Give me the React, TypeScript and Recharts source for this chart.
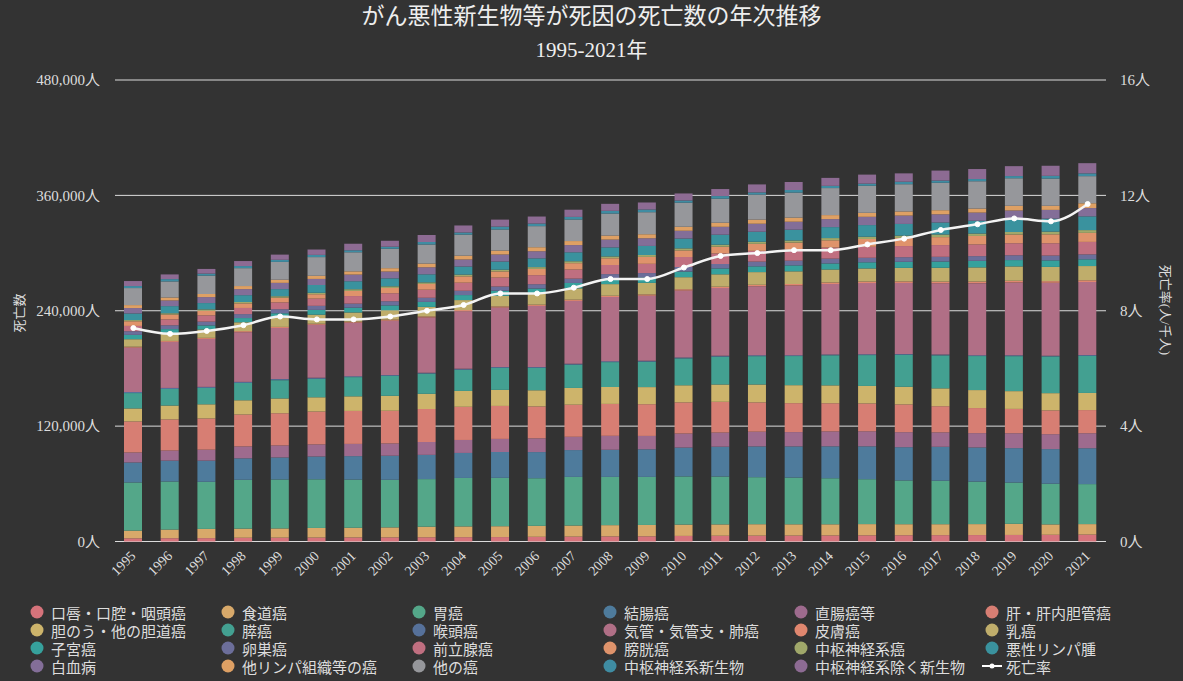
import React from "react";
import { ComposedChart, Bar, Line, XAxis, YAxis, CartesianGrid } from "recharts";

// がん（悪性新生物）の部位別死亡数（積み上げ棒）と死亡率（折れ線, 右軸）1995-2021

const YEARS = [
  "1995", "1996", "1997", "1998", "1999", "2000", "2001", "2002", "2003", "2004",
  "2005", "2006", "2007", "2008", "2009", "2010", "2011", "2012", "2013", "2014",
  "2015", "2016", "2017", "2018", "2019", "2020", "2021",
];

const LIP = [3300, 3400, 3500, 3900, 4000, 4100, 4200, 4300, 4400, 4500, 4600, 4900, 5100, 5300, 5400, 5800, 6000, 6100, 6200, 6300, 6400, 6500, 6600, 6700, 6800, 7000, 7200];
const ESOPHAGUS = [8000, 9000, 9600, 9500, 9600, 10000, 10100, 10400, 11000, 11200, 11300, 11400, 11500, 11700, 11800, 11800, 11800, 11900, 11700, 11600, 11700, 11500, 11400, 11400, 11600, 10800, 10900];
const STOMACH = [50100, 50000, 49000, 50800, 50900, 50600, 50100, 49500, 49500, 50400, 50300, 49500, 50600, 50200, 50000, 50100, 49800, 48900, 48600, 47900, 46700, 45500, 45200, 44200, 42900, 42300, 41600];
const COLON = [20800, 21700, 22000, 22300, 22900, 23700, 24400, 25000, 25200, 26000, 26900, 27200, 27900, 28200, 28700, 30000, 31000, 32000, 32400, 33200, 34200, 34600, 35300, 35500, 35800, 36000, 37300];
const RECTUM = [10400, 10500, 11400, 12400, 12500, 12600, 12700, 12800, 13400, 13500, 13600, 14300, 13800, 14500, 13900, 14600, 14700, 15300, 14900, 15500, 15600, 15600, 15000, 14900, 15500, 15500, 15600];
const LIVER = [32300, 32400, 32500, 33200, 33500, 34200, 34300, 34000, 34300, 34500, 34300, 33200, 33400, 33200, 33000, 32400, 32000, 30500, 30100, 29300, 29000, 28900, 27200, 26100, 25300, 24800, 24100];
const GALLBLADDER = [13500, 14400, 14700, 14800, 15400, 14800, 15200, 15500, 15800, 16500, 16700, 16800, 17400, 17600, 17800, 17800, 18000, 18600, 18700, 18600, 18200, 18300, 18600, 18700, 18500, 17900, 17800];
const PANCREAS = [16000, 17200, 17000, 18000, 19000, 19200, 20000, 20800, 21000, 22000, 22900, 23300, 24200, 25900, 26400, 28000, 28900, 29500, 30300, 31300, 32100, 33300, 34300, 35400, 36400, 38200, 38500];
const LARYNX = [1100, 1100, 1100, 1100, 1100, 1100, 1000, 1000, 1000, 1000, 1000, 1000, 1000, 1000, 1000, 1000, 1000, 1000, 900, 900, 900, 900, 900, 900, 900, 800, 900];
const LUNG = [46100, 47900, 49900, 51700, 53200, 55100, 55600, 56300, 57400, 59900, 61700, 63400, 65300, 66700, 67600, 69500, 70400, 71700, 72500, 73200, 74000, 73800, 74100, 74900, 75700, 75800, 76000];
const SKIN = [1000, 1000, 1100, 1100, 1100, 1100, 1100, 1200, 1100, 1200, 1200, 1300, 1300, 1300, 1400, 1400, 1400, 1500, 1500, 1600, 1600, 1600, 1700, 1700, 1800, 1700, 1800];
const BREAST = [7800, 8000, 8700, 9200, 9400, 9400, 9500, 9700, 9900, 10400, 11000, 11400, 11800, 12100, 12000, 12500, 12900, 13200, 13200, 13500, 13600, 14100, 14400, 14700, 14900, 14800, 14800];
const UTERUS = [4500, 4300, 4300, 4400, 4800, 5000, 5000, 5100, 5200, 5200, 5300, 5400, 5600, 5700, 5600, 5900, 6100, 6000, 6200, 6300, 6400, 6300, 6500, 6800, 6600, 6800, 7000];
const OVARY = [3800, 4000, 3900, 4100, 4200, 4200, 4200, 4300, 4300, 4500, 4400, 4500, 4500, 4700, 4600, 4700, 4600, 4900, 4900, 5000, 4700, 4800, 4900, 4900, 5000, 5000, 5100];
const PROSTATE = [5500, 6100, 6500, 6400, 7100, 7500, 7900, 8300, 8400, 8400, 9300, 9400, 9500, 9500, 9600, 10400, 11000, 11200, 11400, 11500, 11400, 11600, 12200, 12200, 12500, 12800, 13000];
const BLADDER = [4900, 5100, 4700, 4800, 4900, 4600, 5300, 5500, 6000, 6600, 6400, 6500, 6600, 7000, 7200, 6900, 7000, 7300, 7400, 7600, 8100, 8400, 8300, 8800, 9100, 9300, 9400];
const CNS_CANCER = [1200, 1300, 1500, 1400, 1500, 1500, 1800, 1700, 1600, 1800, 1800, 1900, 2000, 1900, 2000, 2100, 2100, 2200, 2200, 2300, 2400, 2400, 2700, 2500, 2600, 2800, 2900];
const LYMPHOMA = [6900, 7400, 6600, 7100, 7400, 8100, 8300, 8300, 8400, 8400, 8500, 9100, 9300, 9400, 9400, 10200, 10400, 10400, 11200, 11400, 12100, 12200, 12500, 13300, 13800, 13500, 14300];
const LEUKEMIA = [5600, 5900, 6200, 6300, 6500, 6300, 6900, 7100, 7300, 7300, 7300, 7400, 7500, 8100, 8000, 8100, 8200, 8300, 8300, 8300, 8600, 8700, 8500, 8500, 8600, 9100, 8600];
const OTHER_LYMPH = [3100, 3100, 3200, 3200, 3300, 3300, 3400, 3500, 3900, 4000, 4100, 4200, 4200, 4200, 4200, 4200, 4300, 4300, 4300, 4200, 4200, 4300, 4300, 4200, 4900, 4300, 5000];
const OTHER = [17700, 16700, 19100, 18600, 18500, 19400, 19800, 20200, 19800, 21900, 21900, 21900, 22400, 22900, 22900, 25000, 25000, 26000, 26000, 28100, 28100, 28300, 28500, 28400, 28600, 28300, 28200];
const CNS_NEO = [2100, 2400, 2100, 2200, 2200, 2300, 2100, 2100, 2600, 2200, 3000, 2700, 2700, 2800, 2800, 2300, 2700, 2300, 2700, 2300, 2200, 2600, 2300, 2300, 2300, 2800, 2900];
const NON_CNS_NEO = [5200, 4900, 4900, 5200, 5400, 5600, 6800, 6200, 7300, 7300, 7300, 7300, 7500, 7300, 7300, 7300, 7300, 8300, 8300, 8300, 9400, 8700, 10400, 10400, 10300, 10500, 10600];

// 死亡率（人/千人）
const RATE = [7.4, 7.2, 7.3, 7.5, 7.8, 7.7, 7.7, 7.8, 8.0, 8.2, 8.6, 8.6, 8.8, 9.1, 9.1, 9.5, 9.9, 10.0, 10.1, 10.1, 10.3, 10.5, 10.8, 11.0, 11.2, 11.1, 11.7];

const LEFT_TICKS = [0, 120000, 240000, 360000, 480000];
const RIGHT_TICKS = [0, 4, 8, 12, 16];

const SERIES = [
  { key: "lip", name: "口唇・口腔・咽頭癌", color: "#d6737b", values: LIP },
  { key: "esophagus", name: "食道癌", color: "#d8a96a", values: ESOPHAGUS },
  { key: "stomach", name: "胃癌", color: "#54a789", values: STOMACH },
  { key: "colon", name: "結腸癌", color: "#4e7b9c", values: COLON },
  { key: "rectum", name: "直腸癌等", color: "#9e6b8e", values: RECTUM },
  { key: "liver", name: "肝・肝内胆管癌", color: "#d77e73", values: LIVER },
  { key: "gallbladder", name: "胆のう・他の胆道癌", color: "#cdb46b", values: GALLBLADDER },
  { key: "pancreas", name: "膵癌", color: "#43a091", values: PANCREAS },
  { key: "larynx", name: "喉頭癌", color: "#56719a", values: LARYNX },
  { key: "lung", name: "気管・気管支・肺癌", color: "#b06f86", values: LUNG },
  { key: "skin", name: "皮膚癌", color: "#e0876f", values: SKIN },
  { key: "breast", name: "乳癌", color: "#bfad6b", values: BREAST },
  { key: "uterus", name: "子宮癌", color: "#36a19c", values: UTERUS },
  { key: "ovary", name: "卵巣癌", color: "#6c6e9a", values: OVARY },
  { key: "prostate", name: "前立腺癌", color: "#c06f80", values: PROSTATE },
  { key: "bladder", name: "膀胱癌", color: "#df936b", values: BLADDER },
  { key: "cnsCancer", name: "中枢神経系癌", color: "#a0a86a", values: CNS_CANCER },
  { key: "lymphoma", name: "悪性リンパ腫", color: "#3a929e", values: LYMPHOMA },
  { key: "leukemia", name: "白血病", color: "#836e98", values: LEUKEMIA },
  { key: "otherLymph", name: "他リンパ組織等の癌", color: "#dea064", values: OTHER_LYMPH },
  { key: "other", name: "他の癌", color: "#96979b", values: OTHER },
  { key: "cnsNeo", name: "中枢神経系新生物", color: "#3f8ca2", values: CNS_NEO },
  { key: "nonCnsNeo", name: "中枢神経系除く新生物", color: "#8d6b93", values: NON_CNS_NEO },
];

const FONT = "'Liberation Serif', 'Noto Sans CJK JP', serif";
const TEXT = "#dddddd";

const rows = YEARS.map((year, i) => {
  const r: Record<string, string | number> = { year, rate: RATE[i] };
  SERIES.forEach((s) => { r[s.key] = s.values[i]; });
  return r;
});

function YearTick({ x, y, payload }: { x?: number; y?: number; payload?: { value: string } }) {
  return (
    <text
      x={x}
      y={(y ?? 0) + 4}
      transform={`rotate(-45 ${x} ${(y ?? 0) + 4})`}
      textAnchor="end"
      dominantBaseline="central"
      fill={TEXT}
      fontSize={14}
      fontFamily={FONT}
    >
      {payload?.value}
    </text>
  );
}

const LEG_X = [37, 228, 419, 610, 801, 992];
const LEG_Y = [612, 630, 648, 666];

function LegendBlock() {
  const items = [
    ...SERIES.map((s) => ({ name: s.name, color: s.color, line: false })),
    { name: "死亡率", color: "#ffffff", line: true },
  ];
  return (
    <>
      {items.map((it, i) => {
        const cx = LEG_X[i % 6];
        const cy = LEG_Y[Math.floor(i / 6)];
        return (
          <div key={it.name} style={{ position: "absolute", left: cx - 12, top: cy - 10, height: 20, display: "flex", alignItems: "center" }}>
            <svg width={24} height={20} style={{ display: "block" }}>
              {it.line ? (
                <>
                  <line x1={2} x2={22} y1={10} y2={10} stroke={it.color} strokeWidth={2} />
                  <circle cx={12} cy={10} r={2.5} fill={it.color} />
                </>
              ) : (
                <circle cx={12} cy={10} r={6.5} fill={it.color} />
              )}
            </svg>
            <span style={{ marginLeft: 2, color: TEXT, fontSize: 15, fontFamily: FONT, whiteSpace: "nowrap" }}>{it.name}</span>
          </div>
        );
      })}
    </>
  );
}

export default function App() {
  return (
    <div style={{ position: "absolute", left: 0, top: 0, width: 1183, height: 681, background: "#333333", overflow: "hidden", fontFamily: FONT }}>
      <div style={{ position: "absolute", left: 0, top: 3, width: 1183, textAlign: "center", color: "#eeeeee", fontSize: 23, lineHeight: "28px" }}>
        がん悪性新生物等が死因の死亡数の年次推移
      </div>
      <div style={{ position: "absolute", left: 0, top: 37, width: 1183, textAlign: "center", color: "#eeeeee", fontSize: 21, lineHeight: "26px" }}>
        1995-2021年
      </div>
      <div style={{ position: "absolute", left: 18, top: 313, transform: "translate(-50%, -50%) rotate(-90deg)", color: TEXT, fontSize: 13, whiteSpace: "nowrap" }}>
        死亡数
      </div>
      <div style={{ position: "absolute", left: 1166, top: 310, transform: "translate(-50%, -50%) rotate(90deg)", color: TEXT, fontSize: 13, whiteSpace: "nowrap" }}>
        死亡率(人/千人)
      </div>
      <div style={{ position: "absolute", left: 0, top: 0 }}>
        <ComposedChart width={1183} height={681} data={rows} margin={{ top: 80, right: 0, bottom: 0, left: 0 }} barSize={18}>
          <CartesianGrid yAxisId="left" vertical={false} stroke="#dcdcdc" strokeWidth={1} />
          <XAxis
            dataKey="year"
            height={139.5}
            axisLine={false}
            tickLine={false}
            interval={0}
            tick={<YearTick />}
          />
          <YAxis
            yAxisId="left"
            width={115}
            domain={[0, 480000]}
            ticks={LEFT_TICKS}
            axisLine={false}
            tickLine={false}
            tickMargin={9}
            tick={{ fill: TEXT, fontSize: 15, fontFamily: FONT }}
            tickFormatter={(v: number) => `${v.toLocaleString("en-US")}人`}
          />
          <YAxis
            yAxisId="right"
            orientation="right"
            width={77}
            domain={[0, 16]}
            ticks={RIGHT_TICKS}
            axisLine={false}
            tickLine={false}
            tickMargin={8}
            tick={{ fill: TEXT, fontSize: 15, fontFamily: FONT }}
            tickFormatter={(v: number) => `${v}人`}
          />
          {SERIES.map((s) => (
            <Bar key={s.key} yAxisId="left" dataKey={s.key} name={s.name} stackId="cancer" fill={s.color} isAnimationActive={false} />
          ))}
          <Line
            yAxisId="right"
            dataKey="rate"
            name="死亡率"
            type="monotone"
            stroke="#f4f4f4"
            strokeWidth={2.5}
            dot={{ r: 2.5, fill: "#ffffff", stroke: "#ffffff", strokeWidth: 1 }}
            isAnimationActive={false}
          />
        </ComposedChart>
      </div>
      <LegendBlock />
    </div>
  );
}
